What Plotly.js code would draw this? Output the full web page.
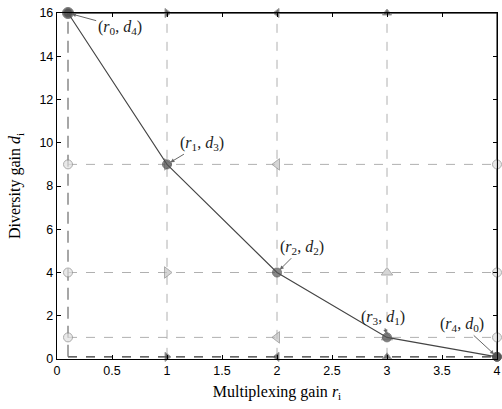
<!DOCTYPE html>
<html>
<head>
<meta charset="utf-8">
<script src="https://cdn.plot.ly/plotly-3.0.1.min.js"></script>
<style>
  html, body { margin: 0; padding: 0; background: #fff; }
  #chart { width: 502px; height: 409px; }
</style>
</head>
<body>
<div id="chart"></div>
<script>
// multiplexing gains r_i and matching diversity gains d_i
const rates = [0.1, 1, 2, 3, 4];
const gains = [16, 9, 4, 1, 0.1];
const pointLabels = [
    '(<i>r</i><sub>0</sub>, <i>d</i><sub>4</sub>)',
    '(<i>r</i><sub>1</sub>, <i>d</i><sub>3</sub>)',
    '(<i>r</i><sub>2</sub>, <i>d</i><sub>2</sub>)',
    '(<i>r</i><sub>3</sub>, <i>d</i><sub>1</sub>)',
    '(<i>r</i><sub>4</sub>, <i>d</i><sub>0</sub>)'
];
// where each label text sits (data units)
const labelX = [0.57, 1.32, 2.23, 2.96, 3.68];
const labelY = [15.35, 9.98, 5.17, 1.93, 1.6];
const xTicks = [0, 0.5, 1, 1.5, 2, 2.5, 3, 3.5, 4];
const yTicks = [0, 2, 4, 6, 8, 10, 12, 14, 16];

const colSymbols = ['circle', 'triangle-right', 'triangle-left', 'triangle-up', 'circle'];
const serif = 'Liberation Serif, Times New Roman, serif';

const traces = [];
const first = 0, last = rates.length - 1;

// horizontal dashed guides
gains.forEach((g, j) => {
    let color = '#b0b0b0', dash = 'dash', width = 1;
    if (j === 0) { color = '#333'; dash = 'solid'; width = 1.5; }
    if (j === last) { color = '#333'; width = 1.2; }
    traces.push({
        x: [rates[first], rates[last]], y: [g, g],
        type: 'scatter', mode: 'lines',
        line: {color: color, dash: dash, width: width},
        hoverinfo: 'skip', showlegend: false
    });
});

// vertical dashed guides
rates.forEach((r, i) => {
    let color = '#b0b0b0', dash = 'dash', width = 1;
    if (i === 0) { color = '#777'; dash = '12px,7px'; width = 1.3; }
    if (i === last) { color = '#222'; dash = 'solid'; width = 1.2; }
    traces.push({
        x: [r, r], y: [gains[last], gains[first]],
        type: 'scatter', mode: 'lines',
        line: {color: color, dash: dash, width: width},
        hoverinfo: 'skip', showlegend: false
    });
});

// grid markers at every crossing
rates.forEach((r, i) => {
    const xs = [], ys = [], fills = [], lines = [], sizes = [];
    gains.forEach((g, j) => {
        if (i + j === last) return; // main curve point
        xs.push(r); ys.push(g);
        const edgeRow = (j === 0 || j === last);
        const edgeCol = (i === 0 || i === last);
        fills.push(edgeRow ? (edgeCol ? '#111' : '#333') : (edgeCol ? '#e0e0e0' : '#c4c4c4'));
        lines.push(edgeRow ? '#777' : '#8a8a8a');
        sizes.push(edgeCol ? 9 : (edgeRow ? 8 : 10));
    });
    traces.push({
        x: xs, y: ys, type: 'scatter', mode: 'markers',
        marker: {symbol: colSymbols[i], size: sizes, color: fills,
                 line: {color: lines, width: 1}},
        cliponaxis: false, hoverinfo: 'skip', showlegend: false
    });
});

// tradeoff curve
traces.push({
    x: rates, y: gains, type: 'scatter', mode: 'lines+markers',
    line: {color: '#444', width: 1.1},
    marker: {symbol: 'circle', size: [11, 9, 9, 9, 9], color: '#555', line: {color: '#444', width: 1}},
    cliponaxis: false, showlegend: false
});

const annotations = rates.map((r, i) => ({
    x: r, y: gains[i], xref: 'x', yref: 'y',
    ax: labelX[i], ay: labelY[i], axref: 'x', ayref: 'y',
    text: pointLabels[i], showarrow: true,
    arrowhead: 2, arrowsize: 0.8, arrowwidth: 1, arrowcolor: '#666',
    standoff: 4,
    font: {family: serif, size: 16, color: '#222'}
}));

const axisCommon = {
    showgrid: false, zeroline: false,
    showline: true, linecolor: '#000', linewidth: 1.2, mirror: 'ticks',
    ticks: 'inside', ticklen: 4, tickcolor: '#000',
    tickfont: {family: 'Liberation Sans, Arial, sans-serif', size: 12.5, color: '#000'}
};

const layout = {
    width: 502, height: 409,
    margin: {l: 57, r: 5, t: 13, b: 50},
    paper_bgcolor: '#fff', plot_bgcolor: '#fff',
    xaxis: {...axisCommon, range: [0, 4], tickvals: xTicks,
        ticktext: xTicks.map(String),
        title: {text: 'Multiplexing gain <i>r</i><sub>i</sub>', standoff: 8,
            font: {family: serif, size: 16, color: '#000'}}},
    yaxis: {...axisCommon, range: [0, 16], tickvals: yTicks,
        title: {text: 'Diversity gain <i>d</i><sub>i</sub>', standoff: 14,
            font: {family: serif, size: 16, color: '#000'}}},
    annotations: annotations
};

Plotly.newPlot('chart', traces, layout, {displayModeBar: false, staticPlot: true});
</script>
</body>
</html>
